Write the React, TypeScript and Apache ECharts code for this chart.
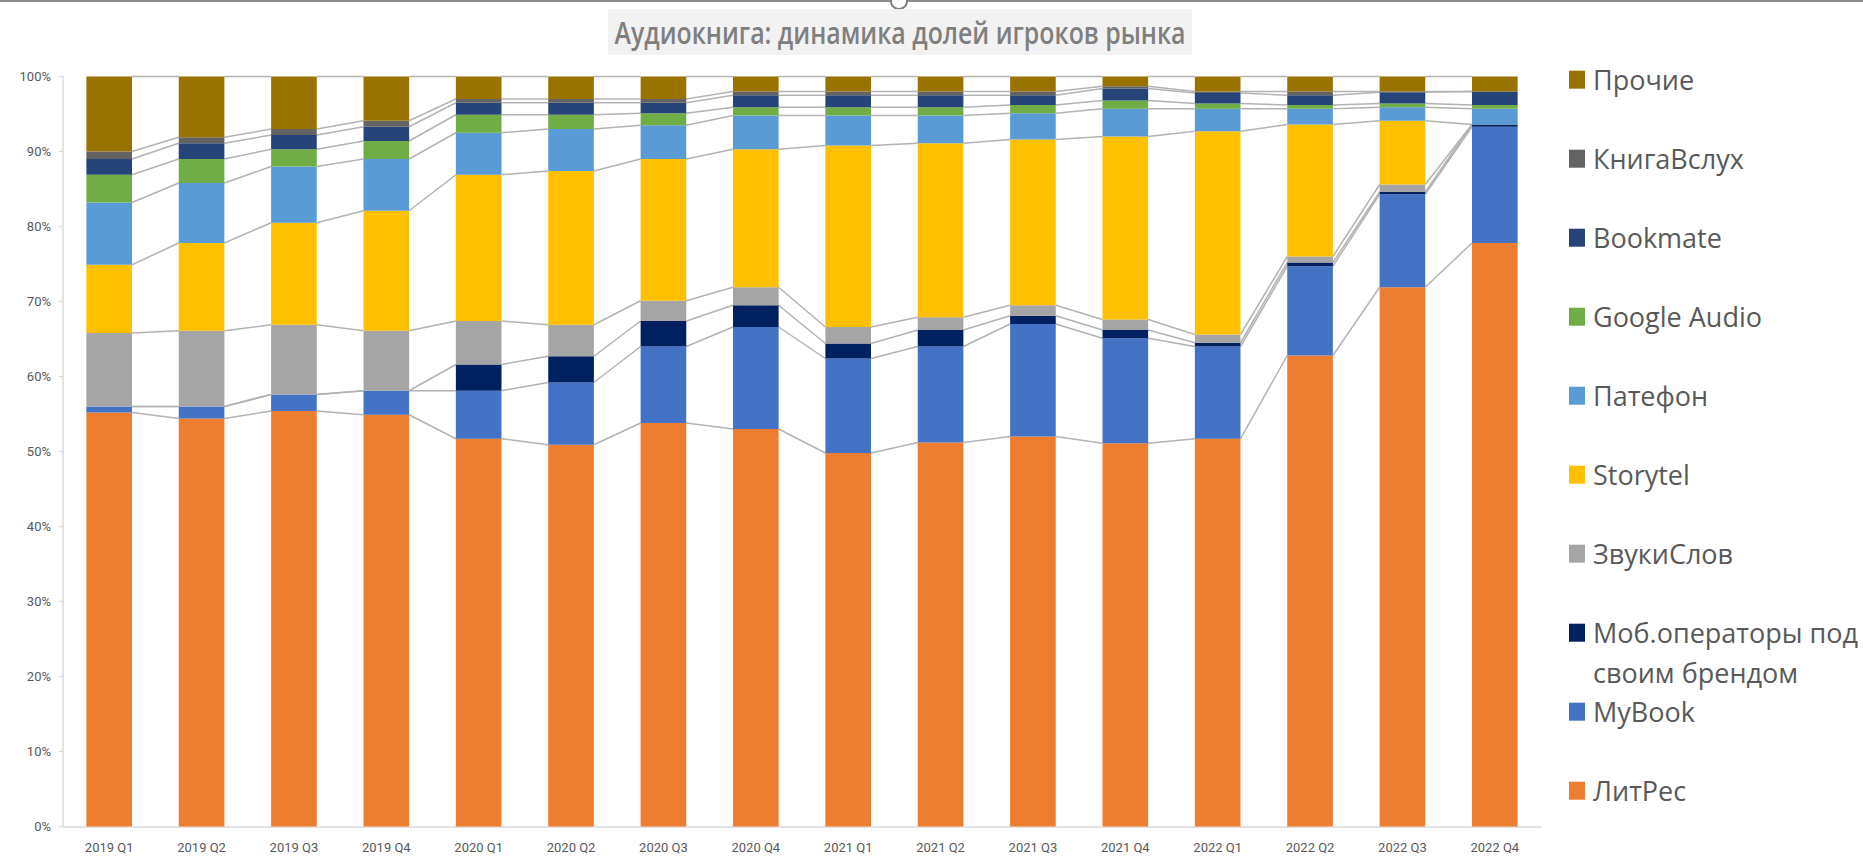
import React, { useEffect, useRef } from 'react';
import * as echarts from 'echarts';

const CATEGORIES = [
  '2019 Q1', '2019 Q2', '2019 Q3', '2019 Q4',
  '2020 Q1', '2020 Q2', '2020 Q3', '2020 Q4',
  '2021 Q1', '2021 Q2', '2021 Q3', '2021 Q4',
  '2022 Q1', '2022 Q2', '2022 Q3', '2022 Q4',
];

const LITRES = [55.2, 54.4, 55.4, 54.9, 51.7, 50.9, 53.8, 53.0, 49.8, 51.2, 52.0, 51.1, 51.7, 62.8, 71.9, 77.8];
const MYBOOK = [0.8, 1.6, 2.2, 3.2, 6.4, 8.3, 10.2, 13.6, 12.6, 12.8, 15.0, 14.0, 12.3, 11.9, 12.4, 15.5];
const MOB = [0, 0, 0, 0, 3.5, 3.5, 3.4, 2.9, 2.0, 2.2, 1.1, 1.1, 0.5, 0.5, 0.3, 0.3];
const ZVUKI = [9.8, 10.1, 9.3, 8.0, 5.8, 4.2, 2.7, 2.4, 2.2, 1.7, 1.4, 1.4, 1.1, 0.8, 1.0, 0];
const STORYTEL = [9.1, 11.7, 13.6, 16.0, 19.5, 20.5, 18.9, 18.4, 24.2, 23.2, 22.1, 24.4, 27.1, 17.6, 8.5, 0];
const PATEFON = [8.3, 8.0, 7.5, 6.9, 5.6, 5.6, 4.5, 4.5, 4.0, 3.7, 3.5, 3.7, 3.0, 2.1, 1.8, 2.1];
const GOOGLE = [3.7, 3.2, 2.3, 2.4, 2.4, 1.9, 1.6, 1.1, 1.1, 1.1, 1.1, 1.1, 0.7, 0.5, 0.5, 0.5];
const BOOKMATE = [2.1, 2.1, 1.9, 1.9, 1.6, 1.6, 1.4, 1.6, 1.6, 1.6, 1.3, 1.6, 1.4, 1.3, 1.5, 1.8];
const KNIGA = [1.0, 0.8, 0.8, 0.8, 0.5, 0.5, 0.5, 0.5, 0.5, 0.5, 0.5, 0.3, 0.2, 0.5, 0.1, 0];
const PROCHIE = [10.0, 8.1, 7.0, 5.9, 3.0, 3.0, 3.0, 2.0, 2.0, 2.0, 2.0, 1.3, 2.0, 2.0, 2.0, 2.0];

const MOB_NAME = 'Моб.операторы под своим брендом';
const TITLE = 'Аудиокнига: динамика долей игроков рынка';

// bottom to top
const SERIES = [
  { name: 'ЛитРес', data: LITRES, color: '#ED7D31' },
  { name: 'MyBook', data: MYBOOK, color: '#4472C4' },
  { name: MOB_NAME, data: MOB, color: '#002060' },
  { name: 'ЗвукиСлов', data: ZVUKI, color: '#A5A5A5' },
  { name: 'Storytel', data: STORYTEL, color: '#FFC000' },
  { name: 'Патефон', data: PATEFON, color: '#5B9BD5' },
  { name: 'Google Audio', data: GOOGLE, color: '#70AD47' },
  { name: 'Bookmate', data: BOOKMATE, color: '#264478' },
  { name: 'КнигаВслух', data: KNIGA, color: '#636363' },
  { name: 'Прочие', data: PROCHIE, color: '#997300' },
];

const BAR_RATIO = 0.494;

export default function App() {
  const ref = useRef<HTMLDivElement>(null);

  useEffect(() => {
    if (!ref.current) return;
    const chart = echarts.init(ref.current, null, { renderer: 'svg' });

    // cumulative tops per series per category
    const cum: number[][] = [];
    let running = CATEGORIES.map(() => 0);
    SERIES.forEach((s) => {
      running = running.map((v, i) => v + s.data[i]);
      cum.push(running.slice());
    });

    const barSeries = SERIES.map((s) => ({
      name: s.name,
      type: 'bar',
      stack: 'total',
      barWidth: BAR_RATIO * 100 + '%',
      data: s.data,
      itemStyle: { color: s.color },
      z: 3,
    }));

    const seriesLines = {
      type: 'custom',
      name: 'lines',
      z: 2,
      silent: true,
      data: CATEGORIES.slice(0, -1).map((_, i) => [i, 0]),
      encode: { x: 0, y: 1 },
      renderItem: (params: any, api: any) => {
        const i = api.value(0) as number;
        const bw = (api.size([1, 0]) as number[])[0] * BAR_RATIO;
        const children = cum.map((row) => {
          const p1 = api.coord([i, row[i]]);
          const p2 = api.coord([i + 1, row[i + 1]]);
          return {
            type: 'line',
            shape: { x1: p1[0] + bw / 2, y1: p1[1], x2: p2[0] - bw / 2, y2: p2[1] },
            style: { stroke: '#b3b3b3', lineWidth: 1.5 },
          };
        });
        return { type: 'group', children };
      },
    };

    const LEGEND_TOP = 79.7;
    const LEGEND_STEP = 79;
    const legendOrder = [...SERIES].reverse();
    const legends = legendOrder.map((s, k) => {
      const cy = LEGEND_TOP + k * LEGEND_STEP;
      const multi = s.name === MOB_NAME;
      return {
        data: [s.name],
        orient: 'vertical',
        left: 1569,
        top: multi ? cy - 60 : cy - 18,
        padding: 0,
        itemWidth: 16,
        itemHeight: 18,
        itemGap: 0,
        icon: 'rect',
        selectedMode: false,
        formatter: multi
          ? (n: string) => '\n' + n.replace(' своим', '\nсвоим')
          : (n: string) => n,
        textStyle: {
          fontFamily: 'Open Sans',
          fontSize: 27,
          color: '#595959',
          lineHeight: multi ? 40 : 36,
          padding: [0, 0, 0, 3],
        },
      };
    });

    const option: any = {
      animation: false,
      backgroundColor: '#ffffff',
      grid: { left: 63, top: 76.5, width: 1478, height: 750, containLabel: false },
      xAxis: {
        type: 'category',
        data: CATEGORIES,
        axisLine: { show: true, lineStyle: { color: '#d9d9d9', width: 1.5 } },
        axisTick: { show: false },
        axisLabel: {
          color: '#595959',
          fontSize: 13,
          fontFamily: 'Roboto',
          margin: 14,
          interval: 0,
        },
        splitLine: { show: false },
      },
      yAxis: {
        type: 'value',
        min: 0,
        max: 100,
        interval: 10,
        axisLine: { show: true, lineStyle: { color: '#d9d9d9', width: 1.5 } },
        axisTick: { show: true, length: 4, lineStyle: { color: '#d9d9d9' } },
        axisLabel: {
          formatter: '{value}%',
          color: '#595959',
          fontSize: 13,
          fontFamily: 'Roboto',
          margin: 12,
        },
        splitLine: { show: false },
      },
      legend: legends,
      series: [seriesLines, ...barSeries],
      graphic: [
        {
          type: 'line',
          shape: { x1: 0, y1: 1, x2: 1863, y2: 1 },
          style: { stroke: '#8c8c8c', lineWidth: 2 },
          silent: true,
        },
        {
          type: 'circle',
          shape: { cx: 899, cy: 1, r: 8 },
          style: { fill: '#ffffff', stroke: '#7f7f7f', lineWidth: 2 },
          silent: true,
        },
        {
          type: 'rect',
          shape: { x: 608, y: 9, width: 584, height: 46 },
          style: { fill: '#f2f2f2' },
          silent: true,
        },
        {
          type: 'text',
          x: 900,
          y: 33,
          scaleX: 0.83,
          silent: true,
          style: {
            text: TITLE,
            align: 'center',
            verticalAlign: 'middle',
            fontFamily: 'Open Sans',
            fontWeight: 600,
            fontSize: 30,
            fill: '#7f7f7f',
          },
        },
      ],
    };

    chart.setOption(option);
    return () => chart.dispose();
  }, []);

  return (
    <div
      ref={ref}
      style={{ position: 'fixed', left: 0, top: 0, width: 1863, height: 856, background: '#ffffff' }}
    />
  );
}
